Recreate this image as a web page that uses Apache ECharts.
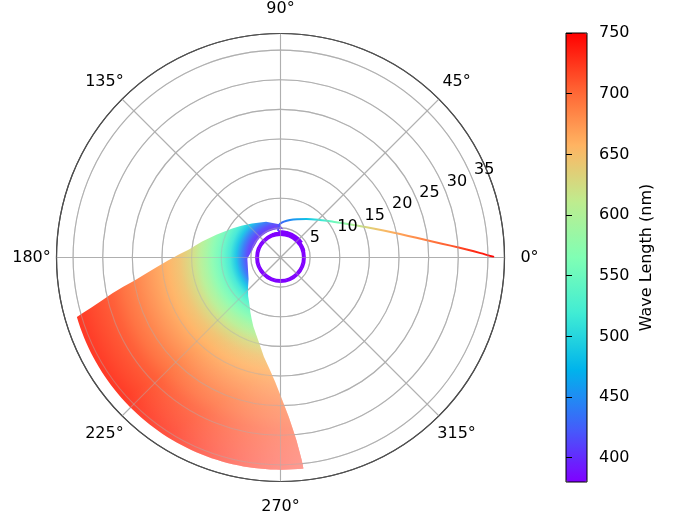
<!DOCTYPE html>
<html>
<head>
<meta charset="utf-8">
<script src="https://cdn.jsdelivr.net/npm/echarts@6/dist/echarts.min.js"></script>
<style>
  html, body { margin: 0; padding: 0; background: #fff; }
  #chart { width: 678px; height: 518px; }
</style>
</head>
<body>
<div id="chart"></div>
<script>
// fan of curves, read as nodes along the radius: upper / lower edge angle and wavelength colour
const fanRadius = [4.8, 5.6, 6.5, 7.5, 8.5, 9.5, 10.5, 11.5, 12.5, 13.5, 14.5, 15.5, 17, 19, 21, 23, 25, 27, 29, 31, 33, 34.5, 35.8];
const fanUpper = [84, 92, 112, 130, 141, 149, 155.5, 160.5, 165, 168.5, 172, 175, 178, 181.5, 184.5, 187, 189, 190.5, 192, 193.5, 194.8, 195.6, 196.3];
const fanLower = [145, 182, 214, 223, 230, 236.5, 241, 245, 248.5, 252, 255, 257.5, 260.5, 264.5, 267.5, 269.7, 271.5, 273, 274.1, 275, 275.6, 276, 276.2];
const fanWave = [400, 410, 440, 485, 515, 538, 556, 572, 590, 605, 620, 632, 647, 660, 670, 680, 690, 700, 710, 716, 722, 727, 730];

// the single curve running out to 0 deg
const lineRadius = [4.6, 5.7, 6.53, 7.86, 9.19, 10.72, 12.93, 15.42, 17.97, 20.55, 23.19, 25.92, 28.76, 31.45, 33.76, 35.91];
const lineAngle = [95, 90.8, 75.8, 55.8, 43.5, 34.3, 25.8, 19.4, 14.7, 11.1, 8.24, 5.9, 4.0, 2.46, 1.26, 0.2];
const lineWave = [410, 425, 450, 485, 515, 550, 590, 630, 652, 667, 680, 693, 707, 722, 735, 748];

// purple ring near the centre
const ringRadius = [3.75, 3.95, 4.15];
const capInner = [3.8, 3.9];
const capOuter = [4.35, 4.6];
const capFrom = [15, 35];
const capTo = [110, 95];

const angleTicks = [0, 45, 90, 135, 180, 225, 270, 315];
const rTicks = [5, 10, 15, 20, 25, 30, 35];
const cbTicks = [400, 450, 500, 550, 600, 650, 700, 750];
const rainbow = ['#8000ff', '#4062fa', '#00b4ec', '#40ecd4', '#80ffb4', '#bfec8e', '#ffb462', '#ff6232', '#ff0000'];

const FONT = 'DejaVu Sans';
const CX = 280.5, CY = 257.5, R = 224, RMAX = 37.8;
const WMIN = 380, WMAX = 750;

function waveColor(w) {
  return echarts.color.lerp((w - WMIN) / (WMAX - WMIN), rainbow);
}
function mixWhite(c, a) {
  const p = echarts.color.parse(c);
  return 'rgb(' + [0, 1, 2].map(i => Math.round(255 - a * (255 - p[i]))).join(',') + ')';
}
function arcPts(api, r, a0, a1) {
  const n = Math.max(2, Math.ceil(Math.abs(a1 - a0) / 1.5) + 1);
  const pts = [];
  for (let i = 0; i < n; i++) pts.push(api.coord([r, a0 + (a1 - a0) * i / (n - 1)]));
  return pts;
}

function renderFan(params, api) {
  const n = fanRadius.length;
  let pts = [];
  for (let k = 0; k < n; k++) pts.push(api.coord([fanRadius[k], fanUpper[k]]));
  pts = pts.concat(arcPts(api, fanRadius[n - 1], fanUpper[n - 1], fanLower[n - 1]));
  for (let k = n - 1; k >= 0; k--) pts.push(api.coord([fanRadius[k], fanLower[k]]));
  pts = pts.concat(arcPts(api, fanRadius[0], fanLower[0], fanUpper[0]));
  const c = api.coord([0, 0]);
  const e = api.coord([RMAX, 0]);
  const rpx = Math.hypot(e[0] - c[0], e[1] - c[1]);
  const stops = fanRadius.map((r, k) => ({ offset: r / RMAX, color: mixWhite(waveColor(fanWave[k]), 0.93) }));
  const base = new echarts.graphic.RadialGradient(c[0], c[1], rpx, stops, true);
  // lines thin out towards the lower side: paler there
  const a = api.coord([17, 232]), b = api.coord([36, 276]);
  const wash = new echarts.graphic.LinearGradient(a[0], a[1], b[0], b[1], [
    { offset: 0, color: 'rgba(255,255,255,0)' },
    { offset: 0.35, color: 'rgba(255,255,255,0.12)' },
    { offset: 1, color: 'rgba(255,255,255,0.5)' }
  ], true);
  return {
    type: 'group',
    children: [
      { type: 'polygon', shape: { points: pts }, style: { fill: base } },
      { type: 'polygon', shape: { points: pts }, style: { fill: wash } }
    ]
  };
}

function renderLine(params, api) {
  const pts = lineRadius.map((r, i) => api.coord([r, lineAngle[i]]));
  const c = api.coord([0, 0]);
  const e = api.coord([RMAX, 0]);
  const rpx = Math.hypot(e[0] - c[0], e[1] - c[1]);
  const stops = lineRadius.map((r, i) => ({ offset: r / RMAX, color: waveColor(lineWave[i]) }));
  return {
    type: 'polyline',
    shape: { points: pts, smooth: 0.3 },
    style: { fill: 'none', stroke: new echarts.graphic.RadialGradient(c[0], c[1], rpx, stops, true), lineWidth: 2, lineCap: 'round' }
  };
}

function renderRing(params, api) {
  const c = api.coord([0, 0]);
  const p = api.coord([api.value(1), 0]);
  return {
    type: 'circle',
    shape: { cx: c[0], cy: c[1], r: Math.hypot(p[0] - c[0], p[1] - c[1]) },
    style: { fill: 'none', stroke: api.visual('color'), lineWidth: 1.6 }
  };
}

function renderCap(params, api) {
  const j = api.value(3);
  const pts = arcPts(api, capInner[j], capFrom[j], capTo[j]).concat(arcPts(api, capOuter[j], capTo[j], capFrom[j]));
  return { type: 'polygon', shape: { points: pts }, style: { fill: api.visual('color') } };
}

// angle tick labels, centred on a circle just outside the spine (as matplotlib does)
function renderAngleLabel(params, api) {
  const p = api.coord([api.value(0), api.value(1)]);
  return {
    type: 'text', x: p[0], y: p[1],
    style: { text: api.value(1) + '°', fill: '#000', font: '16px "DejaVu Sans"', align: 'center', verticalAlign: 'middle' }
  };
}

const ringData = ringRadius.map((r, i) => [WMIN, r, 0, i]);
const capData = capInner.map((r, j) => [WMIN, (r + capOuter[j]) / 2, (capFrom[j] + capTo[j]) / 2, j]);

const gridGray = '#b0b0b0';
const gridWash = 'rgba(176,176,176,0.45)';
const chart = echarts.init(document.getElementById('chart'), null, { renderer: 'canvas' });

chart.setOption({
  animation: false,
  backgroundColor: '#fff',
  textStyle: { fontFamily: FONT },
  polar: [
    { center: [CX, CY], radius: R },
    { center: [CX, CY], radius: R },
    { center: [CX, CY], radius: R },
    { center: [CX, CY], radius: 249 }
  ],
  angleAxis: [
    {
      polarIndex: 0, type: 'value', min: 0, max: 360, interval: 45, startAngle: 0, clockwise: false,
      axisLine: { lineStyle: { color: '#000', width: 1.2 } },
      axisTick: { show: false },
      axisLabel: { show: false },
      splitLine: { lineStyle: { color: gridGray, width: 1.1 } }
    },
    { polarIndex: 1, type: 'value', min: 0, max: 360, startAngle: 22.5, clockwise: false, show: false },
    {
      polarIndex: 2, type: 'value', min: 0, max: 360, interval: 45, startAngle: 0, clockwise: false, z: 10,
      axisLine: { show: false }, axisTick: { show: false }, axisLabel: { show: false },
      splitLine: { lineStyle: { color: gridWash, width: 1.1 } }
    },
    { polarIndex: 3, type: 'value', min: 0, max: 360, startAngle: 0, clockwise: false, show: false }
  ],
  radiusAxis: [
    {
      polarIndex: 0, type: 'value', min: 0, max: RMAX, interval: 5,
      axisLine: { show: false }, axisTick: { show: false }, axisLabel: { show: false },
      splitLine: { lineStyle: { color: gridGray, width: 1.1 } }
    },
    {
      polarIndex: 1, type: 'value', min: 0, max: RMAX, z: 11,
      axisLine: { show: false }, axisTick: { show: false }, splitLine: { show: false },
      axisLabel: { customValues: rTicks, margin: 0, align: 'left', verticalAlign: 'bottom', padding: [0, 0, 0, 2], fontSize: 16, color: '#000', fontFamily: FONT }
    },
    {
      polarIndex: 2, type: 'value', min: 0, max: RMAX, interval: 5, z: 10,
      axisLine: { show: false }, axisTick: { show: false }, axisLabel: { show: false },
      splitLine: { lineStyle: { color: gridWash, width: 1.1 } }
    },
    { polarIndex: 3, type: 'value', min: 0, max: 1, show: false }
  ],
  grid: { left: 566, top: 33, width: 21, height: 449, show: true, borderColor: '#000', borderWidth: 1, backgroundColor: 'transparent', z: 10 },
  xAxis: { gridIndex: 0, type: 'value', min: 0, max: 1, show: false },
  yAxis: {
    gridIndex: 0, type: 'value', position: 'right', min: WMIN, max: WMAX, z: 10,
    axisLine: { show: false },
    axisTick: { show: true, length: 6, customValues: cbTicks, lineStyle: { color: '#000', width: 1 } },
    axisLabel: { customValues: cbTicks, margin: 12, fontSize: 16, color: '#000', fontFamily: FONT },
    splitLine: { show: false },
    name: 'Wave Length (nm)', nameLocation: 'middle', nameRotate: 90, nameGap: 52,
    nameTextStyle: { fontSize: 16, color: '#000', fontFamily: FONT }
  },
  visualMap: {
    type: 'continuous', min: WMIN, max: WMAX, dimension: 0, seriesIndex: [1, 2],
    calculable: false, left: 566, top: 33, itemWidth: 21, itemHeight: 449, padding: 0,
    inRange: { color: rainbow }
  },
  series: [
    { type: 'custom', coordinateSystem: 'polar', polarIndex: 0, encode: { radius: 1, angle: 2 }, renderItem: renderFan, data: [[WMAX, fanRadius[0], fanUpper[0]]], silent: true },
    { type: 'custom', coordinateSystem: 'polar', polarIndex: 0, encode: { radius: 1, angle: 2 }, renderItem: renderRing, data: ringData, silent: true },
    { type: 'custom', coordinateSystem: 'polar', polarIndex: 0, encode: { radius: 1, angle: 2 }, renderItem: renderCap, data: capData, silent: true },
    { type: 'custom', coordinateSystem: 'polar', polarIndex: 0, encode: { radius: 1, angle: 2 }, renderItem: renderLine, data: [[WMAX, lineRadius[0], lineAngle[0]]], silent: true },
    { type: 'custom', coordinateSystem: 'polar', polarIndex: 3, encode: { radius: 0, angle: 1 }, renderItem: renderAngleLabel, data: angleTicks.map(a => [1, a]), silent: true }
  ]
});
</script>
</body>
</html>
